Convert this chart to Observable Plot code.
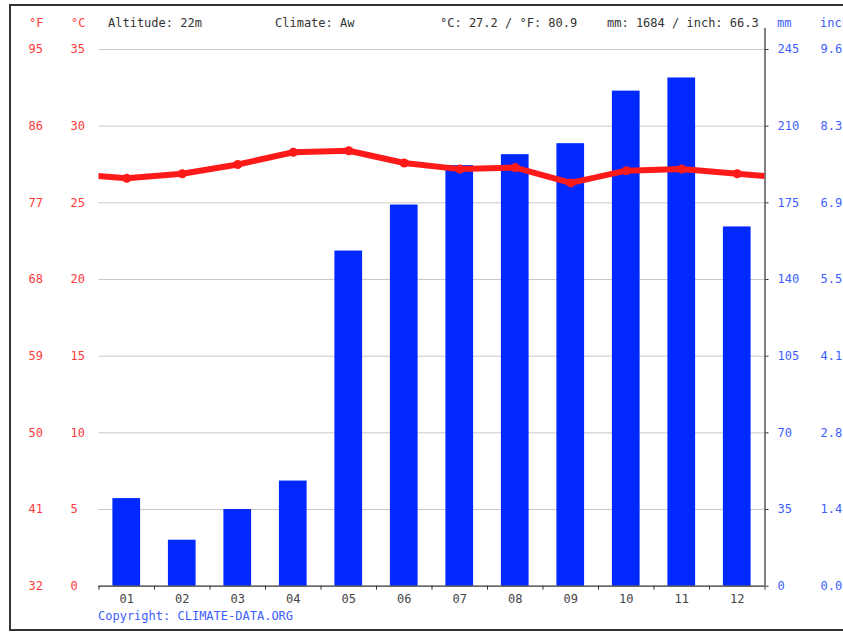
<!DOCTYPE html>
<html>
<head>
<meta charset="utf-8">
<script src="https://cdn.jsdelivr.net/npm/d3@7"></script>
<script src="https://cdn.jsdelivr.net/npm/@observablehq/plot@0.6"></script>
<style>
  body { margin: 0; background: #fff; }
  #wrap { position: relative; width: 843px; height: 632px; overflow: hidden;
          font-family: "DejaVu Sans Mono", monospace; font-size: 12px; }
  #wrap svg { position: absolute; left: 0; top: 0; }
  .frame { position: absolute; left: 9px; top: 4px; width: 1000px; height: 623px; border: 2px solid #333; }
  .t { position: absolute; white-space: pre; line-height: 14px; }
</style>
</head>
<body>
<div id="wrap"><div class="frame"></div></div>
<script>
// ---- data ----
const months = ["01","02","03","04","05","06","07","08","09","10","11","12"];
const monthNumbers = [1,2,3,4,5,6,7,8,9,10,11,12];
const temperatureC = [26.6, 26.9, 27.5, 28.3, 28.4, 27.6, 27.2, 27.3, 26.3, 27.1, 27.2, 26.9];
const precipitationMm = [40, 21, 35, 48, 153, 174, 192, 197, 202, 226, 232, 164];
const celsiusTicks = [0, 5, 10, 15, 20, 25, 30, 35];
const fahrenheitLabels = ["32","41","50","59","68","77","86","95"];
const mmTicks = [0, 35, 70, 105, 140, 175, 210, 245];
const inchLabels = ["0.0","1.4","2.8","4.1","5.5","6.9","8.3","9.6"];
const headerTexts = ["Altitude: 22m", "Climate: Aw", "°C: 27.2 / °F: 80.9", "mm: 1684 / inch: 66.3"];
const unitLabels = ["°F", "°C", "mm", "inch"];
const copyright = "Copyright: CLIMATE-DATA.ORG";

// ---- styling ----
const RED = "#ff1a1a", RED_TXT = "#ff3b3b", BLUE = "#0028ff", BLUE_TXT = "#3d5eff", DARK = "#333";
const W = 843, H = 632;
const margins = { marginTop: 49, marginRight: 78.5, marginBottom: 46.3, marginLeft: 98.5 };
const xDomain = [0.5, 12.5];
const baseStyle = { background: "transparent", fontFamily: "DejaVu Sans Mono, monospace", fontSize: "12px", overflow: "visible" };

const bars = monthNumbers.map((m, i) => ({ month: m, mm: precipitationMm[i] }));
const temps = monthNumbers.map((m, i) => ({ month: m, c: temperatureC[i] }));
// wrap around the year so the line runs to both edges of the frame
const lineData = [{ month: 0, c: temperatureC[11] }, ...temps, { month: 13, c: temperatureC[0] }];
const boundaries = [0.5, ...monthNumbers.map(m => m + 0.5)];

const barLayer = Plot.plot({
  width: W, height: H, ...margins, style: baseStyle,
  x: { domain: xDomain },
  y: { domain: [0, 245] },
  marks: [
    Plot.gridY(mmTicks.filter(v => v > 0), { stroke: "#c8c8c8", strokeOpacity: 1 }),
    Plot.rectY(bars, { x1: d => d.month - 0.5, x2: d => d.month + 0.5, y: "mm", insetLeft: 13.9, insetRight: 13.9, fill: BLUE }),
    Plot.ruleY([0], { stroke: DARK, strokeWidth: 1.2 }),
    Plot.ruleX([xDomain[1]], { stroke: "#555", strokeWidth: 1.5, insetTop: -21 }),
    Plot.axisY(mmTicks, { anchor: "right", tickSize: 3, tickPadding: 9.5, fill: BLUE_TXT, stroke: DARK, label: null,
      tickFormat: d => String(d) }),
    Plot.axisY(mmTicks, { anchor: "right", tickSize: 0, tickPadding: 55.5, fill: BLUE_TXT, label: null,
      tickFormat: d => inchLabels[mmTicks.indexOf(d)] }),
    Plot.axisX(boundaries, { anchor: "bottom", tickSize: 4, stroke: DARK, tickFormat: () => "", label: null }),
    Plot.axisX(monthNumbers, { anchor: "bottom", tickSize: 0, tickPadding: 8, fill: "#444", label: null,
      tickFormat: d => months[monthNumbers.indexOf(d)] })
  ]
});

const tempLayer = Plot.plot({
  width: W, height: H, ...margins, style: baseStyle,
  x: { domain: xDomain, axis: null },
  y: { domain: [0, 35] },
  marks: [
    Plot.line(lineData, { x: "month", y: "c", stroke: RED, strokeWidth: 6, clip: true }),
    Plot.dot(temps, { x: "month", y: "c", r: 4.5, fill: RED }),
    Plot.axisY(celsiusTicks, { anchor: "left", tickSize: 0, tickPadding: 28.5, textAnchor: "start", fill: RED_TXT, label: null,
      tickFormat: d => String(d) }),
    Plot.axisY(celsiusTicks, { anchor: "left", tickSize: 0, tickPadding: 70.5, textAnchor: "start", fill: RED_TXT, label: null,
      tickFormat: d => fahrenheitLabels[celsiusTicks.indexOf(d)] })
  ]
});

const wrap = document.getElementById("wrap");
wrap.appendChild(barLayer);
wrap.appendChild(tempLayer);

function addText(str, left, top, color) {
  const el = document.createElement("div");
  el.className = "t";
  el.textContent = str;
  el.style.left = left + "px";
  el.style.top = top + "px";
  el.style.color = color;
  wrap.appendChild(el);
}
addText(unitLabels[0], 29, 16, RED_TXT);
addText(unitLabels[1], 71, 16, RED_TXT);
addText(headerTexts[0], 108, 16, DARK);
addText(headerTexts[1], 275, 16, DARK);
addText(headerTexts[2], 440, 16, DARK);
addText(headerTexts[3], 607, 16, DARK);
addText(unitLabels[2], 777, 16, BLUE_TXT);
addText(unitLabels[3], 820, 16, BLUE_TXT);
addText(copyright, 98, 609, BLUE_TXT);
</script>
</body>
</html>
